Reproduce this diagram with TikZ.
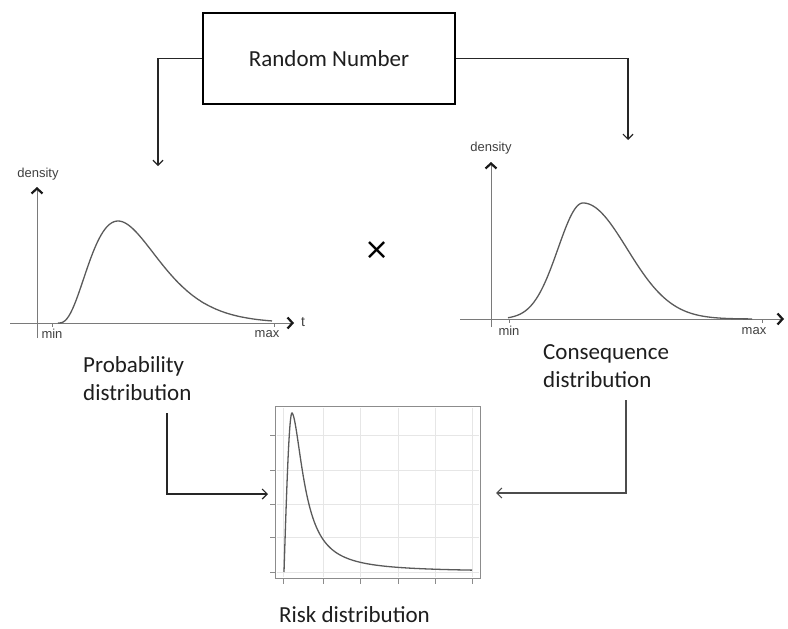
\documentclass[tikz,border=0pt]{standalone}
\usepackage{fontspec}
\setmainfont{Carlito}
\newfontfamily\axfont{Liberation Sans}
\newfontfamily\symfont{DejaVu Sans}
\usetikzlibrary{arrows.meta}
\definecolor{curvegray}{HTML}{5A5A5A}
\definecolor{axisgray}{HTML}{7A7A7A}
\definecolor{gridgray}{HTML}{E6E6E6}
\definecolor{txt}{HTML}{1E1E1E}
\tikzset{
  mainbox/.style={draw=black, line width=2.4pt, minimum width=252pt, minimum height=91pt, inner sep=0pt, font=\fontsize{23}{27}\selectfont, text=txt},
  bigtxt/.style={font=\fontsize{23}{28}\selectfont, text=txt, inner sep=0pt, align=left},
  onelinetxt/.style={font=\fontsize{23}{28}\selectfont, text=txt, inner sep=0pt},
  smalltxt/.style={font=\axfont\fontsize{13}{15}\selectfont, text=black!75, inner sep=0pt},
  conn/.style={draw=black!85, line width=1.3pt, -{Straight Barb[length=5pt,width=10pt,line width=1.2pt]}},
  plotcurve/.style={draw=curvegray, line width=1.3pt},
  axisline/.style={draw=axisgray, line width=1pt},
  axisarrow/.style={axisline, -{Straight Barb[length=5pt,width=11pt,line width=2.2pt,color=black!90]}},
  gridline/.style={draw=gridgray, line width=0.6pt},
  frameline/.style={draw=black!45, line width=1.2pt},
  tickline/.style={draw=black!45, line width=0.8pt}
}
\begin{document}
\begin{tikzpicture}[x=1pt, y=-1pt]
\useasboundingbox (0,0) rectangle (788,629);

% Random number box
\node[mainbox] (rn) at (329,58.5) {Random Number};
\coordinate (lhead) at (158,166);
\coordinate (rhead) at (628,140);
\draw[conn] (rn.west) -| (lhead);
\draw[conn] (rn.east) -| (rhead);

% ---------- Left plot: probability distribution ----------
\coordinate (lyb) at (37,338);
\coordinate (lyt) at (37,187);
\coordinate (lxl) at (10,323);
\coordinate (lxr) at (294,323);
\draw[axisarrow] (lyb) -- (lyt);
\draw[axisarrow] (lxl) -- (lxr);
\coordinate (lmint) at (52,323);
\coordinate (lmaxt) at (274,323);
\draw[axisline] (lmint) -- ++(0,4);
\draw[axisline] (lmaxt) -- ++(0,4);
\node[smalltxt] (ldens) at (38,174) {density};
\node[smalltxt] (lmin) at (52,334) {min};
\node[smalltxt] (lmax) at (267,334) {max};
\node[smalltxt, font=\axfont\fontsize{14}{15}\selectfont] (lt) at (303,322) {t};
\draw[plotcurve] plot[domain=0:214, samples=120, smooth] ({58+\x},{323-102*(\x/60)^3*exp(3-\x/20)});

% ---------- Right plot: consequence distribution ----------
\coordinate (ryb) at (491,327);
\coordinate (ryt) at (491,162);
\coordinate (rxl) at (460,319);
\coordinate (rxr) at (784,319);
\draw[axisarrow] (ryb) -- (ryt);
\draw[axisarrow] (rxl) -- (rxr);
\coordinate (rmint) at (509,319);
\coordinate (rmaxt) at (762,319);
\draw[axisline] (rmint) -- ++(0,4);
\draw[axisline] (rmaxt) -- ++(0,4);
\node[smalltxt] (rdens) at (491,148) {density};
\node[smalltxt] (rmin) at (509,331) {min};
\node[smalltxt] (rmax) at (754,331) {max};
\draw[plotcurve] plot[domain=508:583, samples=60, smooth] (\x,{319-116*exp(-0.5*((\x-583)/25)^2)})
  -- plot[domain=583:752, samples=90, smooth] (\x,{319-116*exp(-0.5*((\x-583)/44)^2)});

% times sign
\node[font=\symfont\fontsize{30}{30}\selectfont, inner sep=0pt] (times) at (377,251) {×};

% labels
\node[bigtxt, anchor=west] (prob) at (83,379) {Probability\\distribution};
\node[bigtxt, anchor=west] (cons) at (543,366) {Consequence\\distribution};
\node[onelinetxt] (riskl) at (354.5,615) {Risk distribution};

% ---------- Risk plot ----------
\node[minimum width=204pt, minimum height=171pt, inner sep=0pt] (risk) at (378,492.5) {};
\foreach \gx in {283,323,360,398,435,472} {
  \draw[gridline] (\gx,408) -- (\gx,577);
  \draw[tickline] (\gx,578) -- (\gx,584);
}
\foreach \gy in {435,470,504,537,572} {
  \draw[gridline] (277,\gy) -- (479,\gy);
  \draw[tickline] (270,\gy) -- (276,\gy);
}
\draw[frameline] (risk.north west) rectangle (risk.south east);
\draw[plotcurve] plot[domain=0:8, samples=20, smooth] ({284+\x},{572-159*sin(11.25*\x)})
  -- plot[domain=8.3:188, samples=150, smooth] ({284+\x},{572-159/(1+exp(1.75*ln((\x-8)/14.3)))});

% connectors to risk plot
\coordinate (pstart) at (167,413);
\coordinate (pcorner) at (167,494);
\coordinate (pend) at (268,494);
\draw[conn] (pstart) -- (pcorner) -- (pend);
\coordinate (cstart) at (626,400);
\coordinate (ccorner) at (626,493);
\coordinate (cend) at (496,493);
\draw[conn, draw=black!70] (cstart) -- (ccorner) -- (cend);
\end{tikzpicture}
\end{document}
